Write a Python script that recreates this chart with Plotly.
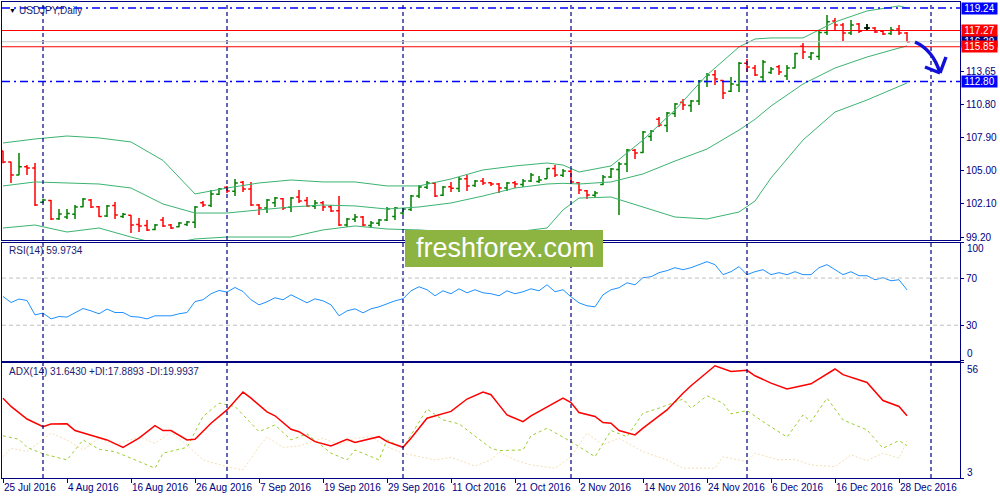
import plotly.graph_objects as go

# x axis labels (bar index -> date)
tick_idx = [0, 8, 16, 24, 32, 40, 48, 56, 64, 72, 80, 88, 96, 104, 112]
tick_text = ["25 Jul 2016", "4 Aug 2016", "16 Aug 2016", "26 Aug 2016", "7 Sep 2016",
             "19 Sep 2016", "29 Sep 2016", "11 Oct 2016", "21 Oct 2016", "2 Nov 2016",
             "14 Nov 2016", "24 Nov 2016", "6 Dec 2016", "16 Dec 2016", "28 Dec 2016"]

# daily bars USDJPY
opens = [106.73, 105.77, 104.63, 105.35, 105.24, 102.25, 102.40, 100.80, 100.95, 101.20,
         101.85, 102.45, 101.85, 101.05, 101.95, 101.00, 101.10, 100.30, 100.20, 99.85,
         100.69, 100.25, 100.10, 100.30, 100.50, 102.20, 101.95, 102.95, 103.55, 103.20,
         104.00, 103.40, 102.00, 101.75, 102.20, 102.55, 101.80, 102.70, 102.40, 101.90,
         102.20, 101.85, 101.50, 100.25, 100.75, 100.95, 100.20, 100.40, 100.70, 101.00,
         101.30, 101.60, 102.80, 103.55, 103.90, 102.85, 103.60, 103.45, 104.30, 103.70,
         104.10, 103.95, 103.85, 103.50, 103.95, 103.80, 104.10, 104.05, 104.30, 105.20,
         104.60, 104.95, 103.95, 103.25, 102.85, 103.80, 104.45, 105.10, 105.60, 106.80,
         106.60, 108.00, 109.50, 108.95, 110.00, 111.00, 110.70, 111.10, 112.80, 113.40,
         112.90, 111.95, 112.50, 114.40, 114.00, 113.20, 113.60, 114.10, 113.30, 114.00,
         115.90, 114.95, 115.00, 117.10, 118.10, 117.75, 117.05, 117.84, 117.50, 117.50,
         117.20, 117.00, 117.40, 117.05]
highs = [106.75, 105.79, 106.55, 105.50, 105.68, 102.55, 102.44, 101.65, 101.65, 102.00,
         102.61, 102.53, 101.92, 102.00, 102.26, 101.30, 101.13, 100.86, 100.69, 100.34,
         100.95, 100.34, 100.51, 100.60, 101.92, 102.35, 103.32, 103.49, 103.67, 104.28,
         104.10, 104.02, 102.09, 102.53, 102.70, 102.61, 102.70, 103.32, 102.70, 102.44,
         102.35, 102.00, 102.79, 100.86, 101.22, 101.04, 100.60, 100.78, 101.83, 101.83,
         101.74, 102.88, 103.75, 104.10, 104.02, 103.67, 104.02, 104.45, 104.63, 104.19,
         104.37, 104.02, 103.93, 104.02, 104.10, 104.28, 104.80, 104.54, 105.24, 105.50,
         105.15, 105.07, 104.02, 103.32, 103.23, 104.63, 105.24, 105.76, 106.90, 106.90,
         108.48, 108.56, 109.70, 110.14, 110.93, 111.28, 111.19, 112.94, 113.55, 113.82,
         112.94, 113.20, 114.51, 114.78, 114.25, 114.69, 114.08, 114.25, 114.25, 115.30,
         116.18, 115.39, 117.32, 118.63, 118.37, 117.93, 118.19, 117.93, 117.84, 117.58,
         117.32, 117.58, 117.75, 117.14]
lows = [105.65, 103.93, 104.60, 104.63, 101.92, 102.15, 100.69, 100.69, 100.78, 100.78,
        101.80, 101.74, 100.95, 100.95, 100.78, 100.86, 99.55, 99.64, 99.73, 99.80,
        100.08, 99.90, 100.05, 100.17, 99.99, 101.83, 101.83, 102.88, 103.05, 102.79,
        103.14, 101.92, 101.13, 101.30, 101.83, 101.57, 101.39, 102.18, 101.83, 101.65,
        101.48, 101.39, 100.17, 100.08, 100.51, 100.17, 99.99, 100.17, 100.60, 100.69,
        101.13, 101.48, 102.61, 103.40, 102.70, 102.79, 103.14, 103.14, 103.23, 103.58,
        103.75, 103.67, 103.05, 103.23, 103.49, 103.58, 104.02, 103.93, 104.28, 104.45,
        104.45, 103.84, 102.97, 102.53, 102.70, 103.75, 104.37, 101.13, 104.89, 106.03,
        106.55, 107.60, 108.83, 108.39, 109.70, 110.32, 110.14, 110.75, 112.33, 112.50,
        111.28, 111.89, 111.89, 113.64, 113.29, 112.77, 113.47, 113.38, 112.94, 113.95,
        114.78, 114.69, 114.69, 116.88, 117.32, 116.35, 116.88, 117.05, 117.23, 117.05,
        116.88, 116.88, 116.88, 116.27]
closes = [105.77, 104.63, 105.35, 105.24, 102.00, 102.45, 100.78, 101.22, 101.25, 101.83,
          102.53, 101.83, 101.00, 101.92, 101.13, 101.20, 100.25, 100.17, 99.82, 100.25,
          100.17, 99.99, 100.43, 100.51, 101.83, 102.00, 102.97, 103.40, 103.23, 103.93,
          103.40, 102.00, 101.74, 102.44, 102.61, 101.74, 102.61, 102.35, 101.92, 102.18,
          101.83, 101.48, 100.25, 100.78, 100.95, 100.25, 100.43, 100.69, 101.65, 101.74,
          101.65, 102.79, 103.58, 103.93, 102.79, 103.58, 103.46, 104.28, 103.67, 104.10,
          103.93, 103.84, 103.49, 103.93, 103.84, 104.10, 104.63, 104.19, 105.20, 104.63,
          104.98, 104.02, 103.32, 102.88, 103.05, 104.45, 105.15, 105.59, 106.81, 106.55,
          108.39, 108.45, 109.00, 110.05, 110.84, 110.75, 111.10, 112.85, 113.38, 113.03,
          111.80, 112.60, 114.41, 114.08, 113.38, 114.51, 113.90, 113.64, 113.99, 115.25,
          115.39, 115.30, 117.10, 118.04, 117.75, 117.05, 117.75, 117.20, 117.50, 117.14,
          116.97, 117.32, 117.05, 116.29]

# Bollinger bands (read at some bars)
bb_idx = [0, 4, 8, 12, 16, 20, 24, 28, 32, 36, 40, 44, 48, 52, 56, 60, 64, 68, 70, 72,
          76, 80, 84, 88, 92, 94, 96, 100, 104, 108, 112, 113]
bb_upper = [107.43, 107.78, 108.04, 107.87, 107.52, 105.90, 102.97, 103.49, 103.93, 104.19,
            104.02, 104.02, 103.67, 103.67, 104.28, 105.07, 105.42, 105.68, 105.50, 104.89,
            105.42, 107.69, 110.32, 113.38, 115.83, 116.53, 116.62, 116.62, 118.02, 118.98,
            119.42, 119.24]
bb_middle = [103.67, 104.02, 103.93, 103.84, 103.49, 102.09, 101.30, 101.30, 101.57, 101.83,
             102.00, 101.92, 101.65, 101.83, 102.18, 102.79, 103.49, 103.84, 103.90, 103.84,
             104.02, 104.72, 105.85, 106.90, 108.56, 109.50, 110.66, 112.59, 113.99, 114.95,
             115.74, 115.92]
bb_lower = [99.99, 100.25, 99.64, 99.99, 99.20, 98.50, 99.03, 99.20, 99.20, 99.20,
            99.82, 100.17, 99.90, 99.82, 99.64, 99.55, 99.64, 99.99, 101.57, 102.61,
            102.70, 101.83, 100.95, 100.78, 101.39, 102.35, 104.37, 107.69, 110.14, 111.19,
            112.33, 112.68]

# RSI(14), one value per bar
rsi = [54.4, 49.3, 52.2, 51.0, 38.8, 40.3, 35.4, 37.4, 36.9, 40.8,
       44.2, 42.2, 39.7, 43.7, 40.8, 40.8, 37.4, 36.9, 35.4, 38.0,
       38.0, 38.0, 39.7, 40.8, 50.1, 51.6, 56.7, 59.5, 58.1, 62.0,
       58.6, 51.6, 47.3, 49.9, 53.3, 51.6, 55.8, 52.4, 49.0, 52.4,
       50.7, 47.3, 38.0, 42.2, 43.9, 40.5, 43.9, 45.6, 48.2, 50.7,
       52.4, 59.2, 62.6, 60.1, 55.0, 59.2, 56.7, 60.9, 57.5, 60.1,
       57.5, 56.7, 55.0, 59.2, 56.7, 58.4, 60.9, 59.2, 64.3, 58.4,
       60.1, 54.1, 49.0, 46.5, 45.6, 55.8, 60.1, 61.8, 66.0, 64.3,
       70.3, 71.1, 74.6, 76.3, 78.8, 77.1, 78.8, 81.4, 83.9, 81.4,
       72.9, 75.4, 79.7, 72.9, 75.4, 77.1, 72.9, 74.6, 72.9, 75.4,
       72.9, 72.9, 78.8, 81.4, 77.1, 72.9, 75.4, 72.0, 72.0, 68.6,
       70.3, 67.7, 68.6, 59.97]

# ADX(14) with +DI / -DI
adx_idx = [0, 1, 3, 5, 6, 8, 9, 11, 13, 15, 17, 19, 20, 21, 23, 24, 26, 28, 30, 31,
           33, 34, 36, 37, 39, 41, 43, 44, 47, 48, 50, 51, 53, 56, 58, 60, 61, 62, 63, 65,
           66, 70, 71, 72, 74, 75, 76, 77, 79, 80, 83, 85, 86, 89, 91, 93, 94, 96, 98, 101,
           104, 105, 108, 110, 112, 113]
adx = [39.7, 35.9, 30.1, 26.6, 27.8, 27.9, 24.8, 22.8, 20.5, 17.1,
       21.3, 27.1, 24.8, 24.8, 20.5, 20.8, 28.2, 34.3, 42.5, 39.7,
       33.4, 31.6, 25.4, 24.3, 19.7, 17.7, 20.8, 19.3, 22.0, 19.7,
       17.1, 21.3, 30.5, 33.6, 39.3, 42.5, 41.3, 36.6, 32.0, 28.9,
       31.6, 39.7, 37.7, 33.1, 31.3, 28.5, 28.2, 24.8, 22.8, 25.9,
       34.3, 42.0, 45.4, 54.6, 52.0, 52.5, 50.0, 46.6, 43.9, 46.3,
       53.1, 50.5, 46.9, 38.6, 35.9, 31.64]
pdi_idx = [0, 2, 3, 5, 8, 10, 12, 14, 16, 19, 20, 23, 25, 27, 29, 32, 34, 36, 38, 41,
           43, 44, 47, 48, 50, 53, 55, 57, 61, 62, 65, 66, 68, 71, 74, 76, 78, 80, 82, 85,
           86, 88, 90, 91, 93, 95, 98, 100, 101, 103, 105, 108, 110, 112, 113]
pdi = [22.4, 20.8, 17.1, 14.1, 11.3, 20.5, 16.2, 15.1, 12.1, 7.5,
       14.4, 17.1, 31.3, 37.4, 35.9, 24.3, 27.4, 20.5, 23.3, 14.4,
       11.3, 15.9, 11.3, 20.5, 16.7, 34.7, 29.7, 27.9, 16.7, 15.6,
       15.9, 22.4, 25.9, 19.7, 12.8, 24.8, 22.0, 32.8, 35.1, 39.3,
       35.1, 40.8, 37.4, 32.5, 34.0, 28.9, 21.8, 32.0, 28.9, 39.7,
       29.7, 25.1, 16.7, 20.2, 17.89]
mdi_idx = [0, 1, 3, 6, 8, 10, 12, 14, 17, 19, 21, 23, 25, 28, 30, 32, 33, 35, 37, 40,
           42, 44, 46, 48, 50, 52, 54, 56, 59, 61, 62, 64, 66, 69, 71, 73, 75, 77, 80, 83,
           85, 89, 90, 93, 94, 97, 99, 101, 104, 106, 108, 110, 112, 113]
mdi = [12.8, 16.7, 15.1, 23.6, 20.5, 15.9, 21.3, 18.2, 21.8, 19.0,
       23.9, 18.2, 11.3, 8.2, 6.7, 17.4, 21.8, 17.1, 17.7, 21.3,
       18.2, 21.3, 22.0, 17.4, 14.4, 12.8, 11.3, 12.5, 8.5, 11.3,
       15.0, 11.3, 9.0, 7.5, 12.8, 23.6, 18.2, 21.3, 15.1, 11.3,
       7.5, 7.5, 12.8, 10.5, 14.4, 11.3, 11.6, 9.0, 8.2, 13.6,
       11.0, 14.4, 12.1, 19.99]

price_ticks = [99.20, 102.10, 105.00, 107.90, 110.80, 113.65]
separators = [5, 28, 50, 71, 93, 116]
blue_levels = [119.24, 112.80]
red_levels = [117.27, 115.85]
bid = 116.29

NAVY = "#000080"
FONT = "Liberation Sans"
W, H = 1000, 500
ML, MR, MT, MB = 2, 40, 2, 22


def px(x):
    return (x - ML) / (W - ML - MR)


def py(y):
    return (H - MB - y) / (H - MT - MB)


bars = list(range(len(closes)))

fig = go.Figure()

fig.add_trace(go.Ohlc(
    x=bars, open=opens, high=highs, low=lows, close=closes,
    increasing_line_color="#008000", decreasing_line_color="#FF0000",
    line_width=1.5, tickwidth=0.35, xaxis="x", yaxis="y", hoverinfo="skip"
))
doji = [i for i in bars if opens[i] == closes[i]]
fig.add_trace(go.Ohlc(
    x=doji, open=[opens[i] for i in doji], high=[highs[i] for i in doji],
    low=[lows[i] for i in doji], close=[closes[i] for i in doji],
    increasing_line_color="#000000", decreasing_line_color="#000000",
    line_width=1.5, tickwidth=0.35, xaxis="x", yaxis="y", hoverinfo="skip"
))

for band in (bb_upper, bb_middle, bb_lower):
    fig.add_trace(go.Scatter(x=bb_idx, y=band, mode="lines",
                             line=dict(color="#3CB371", width=1),
                             xaxis="x", yaxis="y", hoverinfo="skip"))

fig.add_trace(go.Scatter(x=bars, y=rsi, mode="lines",
                         line=dict(color="#1E90FF", width=1),
                         xaxis="x2", yaxis="y2", hoverinfo="skip"))

fig.add_trace(go.Scatter(x=mdi_idx, y=mdi, mode="lines",
                         line=dict(color="#F5DEB3", width=1, dash="2px,2px"),
                         xaxis="x3", yaxis="y3", hoverinfo="skip"))
fig.add_trace(go.Scatter(x=pdi_idx, y=pdi, mode="lines",
                         line=dict(color="#9ACD32", width=1, dash="3px,3px"),
                         xaxis="x3", yaxis="y3", hoverinfo="skip"))
fig.add_trace(go.Scatter(x=adx_idx, y=adx, mode="lines",
                         line=dict(color="#FF0000", width=1.5),
                         xaxis="x3", yaxis="y3", hoverinfo="skip"))

xrange = [-0.125, 119.625]
axis_common = dict(showline=True, linecolor=NAVY, linewidth=1, mirror=True,
                   showgrid=False, zeroline=False)

fig.update_layout(
    width=W, height=H,
    margin=dict(l=ML, r=MR, t=MT, b=MB, autoexpand=False),
    paper_bgcolor="white", plot_bgcolor="white",
    showlegend=False,
    font=dict(family=FONT, size=10, color=NAVY),
    xaxis=dict(domain=[0, 1], anchor="y", range=xrange, showticklabels=False,
               rangeslider=dict(visible=False), **axis_common),
    xaxis2=dict(domain=[0, 1], anchor="y2", range=xrange, showticklabels=False,
                **axis_common),
    xaxis3=dict(domain=[0, 1], anchor="y3", range=xrange,
                tickvals=tick_idx, ticktext=tick_text, ticks="outside", ticklen=4,
                tickcolor=NAVY, ticklabelposition="outside right", tickangle=0,
                tickfont=dict(family=FONT, size=10, color=NAVY), **axis_common),
    yaxis=dict(domain=[py(240), 1], anchor="x", side="right", range=[98.94, 119.765],
               tickvals=price_ticks, ticktext=[f"{v:.2f}" for v in price_ticks],
               ticks="outside", ticklen=3, tickcolor=NAVY,
               tickfont=dict(family=FONT, size=10, color=NAVY), **axis_common),
    yaxis2=dict(domain=[py(360.6), py(242.7)], anchor="x2", side="right", range=[0, 100],
                tickvals=[0, 30, 70, 100], ticktext=["", "30", "70", ""],
                ticks="outside", ticklen=3, tickcolor=NAVY,
                tickfont=dict(family=FONT, size=10, color=NAVY), **axis_common),
    yaxis3=dict(domain=[0, py(362.7)], anchor="x3", side="right", range=[3, 56],
                tickvals=[3, 56], ticktext=["", ""],
                ticks="outside", ticklen=3, tickcolor=NAVY, **axis_common),
)

shapes = []
# period separators
for s in separators:
    shapes.append(dict(type="line", xref="x", yref="paper", x0=s, x1=s, y0=0, y1=1,
                       line=dict(color=NAVY, width=1.2, dash="4px,3px")))
# RSI levels
for lv in (30, 70):
    shapes.append(dict(type="line", xref="x2 domain", yref="y2", x0=0, x1=1, y0=lv, y1=lv,
                       line=dict(color="#C0C0C0", width=1, dash="4px,3px")))
# price levels
shapes.append(dict(type="line", xref="x domain", yref="y", x0=0, x1=1, y0=bid, y1=bid,
                   line=dict(color="#C8C8C8", width=1)))
for lv in red_levels:
    shapes.append(dict(type="line", xref="x domain", yref="y", x0=0, x1=1, y0=lv, y1=lv,
                       line=dict(color="#FF0000", width=1)))
for lv in blue_levels:
    shapes.append(dict(type="line", xref="x domain", yref="y", x0=0, x1=1, y0=lv, y1=lv,
                       line=dict(color="#0000FF", width=1.5, dash="8px,4px,2px,4px")))
# hand drawn arrow
arrow = dict(color="#1010D8", width=3.5)
shapes.append(dict(type="path", xref="paper", yref="paper",
                   path=f"M {px(915)},{py(42)} Q {px(933)},{py(50)} {px(940)},{py(73)}",
                   line=arrow))
shapes.append(dict(type="line", xref="paper", yref="paper", x0=px(925), y0=py(67),
                   x1=px(940), y1=py(73), line=arrow))
shapes.append(dict(type="line", xref="paper", yref="paper", x0=px(946), y0=py(57),
                   x1=px(940), y1=py(73), line=arrow))
# watermark box
shapes.append(dict(type="rect", xref="paper", yref="paper", x0=px(405), x1=px(603),
                   y0=py(267), y1=py(230), fillcolor="#8DB340", line=dict(width=0)))
fig.update_layout(shapes=shapes)

ann = []
ann.append(dict(xref="paper", yref="paper", x=px(7), y=py(10), text="▼", showarrow=False,
                xanchor="left", yanchor="middle", font=dict(size=7, color="#000000")))
ann.append(dict(xref="paper", yref="paper", x=px(17), y=py(10), text="USDJPY,Daily",
                showarrow=False, xanchor="left", yanchor="middle",
                font=dict(family=FONT, size=10, color="#1c1c70")))
ann.append(dict(xref="paper", yref="paper", x=px(7), y=py(251), text="RSI(14) 59.9734",
                showarrow=False, xanchor="left", yanchor="middle",
                font=dict(family=FONT, size=10, color="#1c1c70")))
ann.append(dict(xref="paper", yref="paper", x=px(7), y=py(371),
                text="ADX(14) 31.6430 +DI:17.8893 -DI:19.9937",
                showarrow=False, xanchor="left", yanchor="middle",
                font=dict(family=FONT, size=10, color="#1c1c70")))
ann.append(dict(xref="paper", yref="paper", x=px(505), y=py(248), text="freshforex.com",
                showarrow=False, xanchor="center", yanchor="middle",
                font=dict(family=FONT, size=27, color="white")))
# right axis side labels at panel edges
for txt, yy in (("100", 249), ("0", 353), ("56", 369), ("3", 472)):
    ann.append(dict(xref="paper", yref="paper", x=px(965), y=py(yy), text=txt,
                    showarrow=False, xanchor="left", yanchor="middle",
                    font=dict(family=FONT, size=10, color=NAVY)))
# coloured price boxes
boxes = [(bid, NAVY), (119.24, "#0000FF"), (112.80, "#0000FF"),
         (117.27, "#FF0000"), (115.85, "#FF0000")]
for val, col in boxes:
    ann.append(dict(xref="paper", yref="y", x=px(961), y=val, text=f"{val:.2f}",
                    showarrow=False, xanchor="left", yanchor="middle",
                    bgcolor=col, width=35, height=11, borderpad=0, align="center",
                    font=dict(family=FONT, size=10, color="white")))
fig.update_layout(annotations=ann)

fig.write_html("out.html", config={"displayModeBar": False},
               post_script="document.body.style.margin='0';")
